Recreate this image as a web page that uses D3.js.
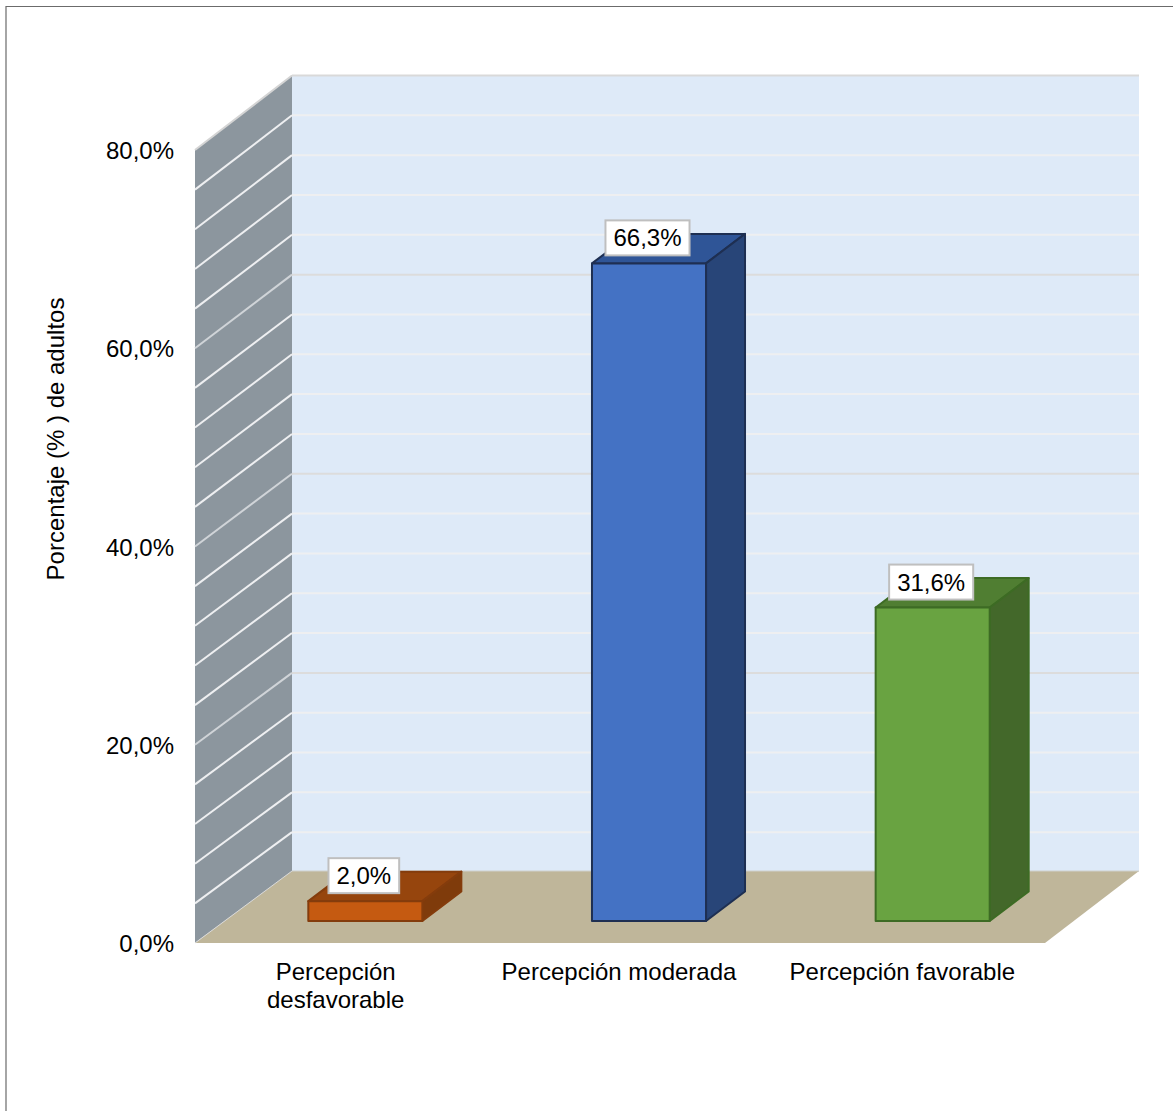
<!DOCTYPE html>
<html>
<head>
<meta charset="utf-8">
<script src="https://cdnjs.cloudflare.com/ajax/libs/d3/7.8.5/d3.min.js"></script>
<style>
html, body { margin: 0; padding: 0; background: #fff; overflow: hidden; }
svg { display: block; }
text { font-family: "Liberation Sans", Arial, sans-serif; fill: #000; }
</style>
</head>
<body>
<svg id="chart" width="1173" height="1111"></svg>
<script>
// Chart data
const categories = [["Percepción", "desfavorable"], ["Percepción moderada"], ["Percepción favorable"]];
const values = [2.0, 66.3, 31.6];
const faceColors = ["#c55a11", "#4472c4", "#69a341"];
const topColors = ["#96450d", "#2f5597", "#507e32"];
const sideColors = ["#7f3b0b", "#284578", "#43682a"];
const edgeColors = ["#843c0c", "#1e2f52", "#3d6b24"];
const majorTicks = [0, 20, 40, 60, 80];
const minorTicks = d3.range(0, 84, 4);
const axisTitle = "Porcentaje (% ) de adultos";

const svg = d3.select("#chart");
const fmt = d3.formatLocale({ decimal: ",", thousands: ".", grouping: [3], currency: ["", ""] });
const pct = v => fmt.format(".1f")(v) + "%";

// Projection of the 3D box: front plane, back plane and bar plane
const yFront = d3.scaleLinear().domain([0, 80]).range([943, 150]);
const yBack = d3.scaleLinear().domain([0, 80]).range([872, 75.5]);
const yBar = d3.scaleLinear().domain([0, 80]).range([921, 127.5]);
const xFront = d3.scaleBand().domain(d3.range(3)).range([195, 1045]);
const xBar = d3.scaleBand().domain(d3.range(3)).range([223.5, 1074.5]).paddingInner(0.598).paddingOuter(0.299);
const wallLeft = 292, wallRight = 1139, frontLeft = 195, frontRight = 1045;
const depthX = 39, depthY = -29.5;

// Outer frame, open towards the right and bottom edges
svg.append("path").attr("d", "M6,1111V6.5H1173").attr("fill", "none").attr("stroke", "#6b6b6b").attr("stroke-width", 1.2);

// Back wall
svg.append("rect").attr("x", wallLeft).attr("y", yBack(80))
  .attr("width", wallRight - wallLeft).attr("height", yBack(0) - yBack(80)).attr("fill", "#deeaf8");

// Side wall
const sideWall = d3.line()([[frontLeft, yFront(0)], [frontLeft, yFront(80)], [wallLeft, yBack(80)], [wallLeft, yBack(0)]]) + "Z";
svg.append("path").attr("d", sideWall).attr("fill", "#8c969e");

// Floor
const floor = d3.line()([[frontLeft, yFront(0)], [wallLeft, yBack(0) - 1], [wallRight, yBack(0) - 1], [frontRight, yFront(0)]]) + "Z";
svg.append("path").attr("d", floor).attr("fill", "#bfb69a");

// Gridlines every 4 units, heavier on the labelled values
const isMajor = v => majorTicks.includes(v);
const grid = svg.append("g").attr("fill", "none").attr("stroke-width", 2);
minorTicks.filter(v => v > 0).forEach(v => {
  const col = isMajor(v) ? "#dcdcdc" : "#eeeff1";
  const sideCol = v === 80 ? "#d4d4d4" : (isMajor(v) ? "#d0d4d8" : "#eeeff1");
  grid.append("line").attr("x1", wallLeft).attr("x2", wallRight).attr("y1", yBack(v)).attr("y2", yBack(v)).attr("stroke", v === 80 ? "#d9d9d9" : col);
  grid.append("line").attr("x1", frontLeft).attr("x2", wallLeft).attr("y1", yFront(v)).attr("y2", yBack(v)).attr("stroke", sideCol);
});
grid.append("line").attr("x1", wallLeft).attr("x2", wallRight).attr("y1", yBack(0) - 1).attr("y2", yBack(0) - 1).attr("stroke", "#cfd0cc").attr("stroke-width", 1);
grid.append("line").attr("x1", frontLeft).attr("x2", wallLeft).attr("y1", yFront(0)).attr("y2", yBack(0) - 1).attr("stroke", "#d9d9d9").attr("stroke-width", 1);

// Value axis
const axis = svg.append("g").attr("transform", `translate(${frontLeft},1)`)
  .call(d3.axisLeft(yFront).tickValues(majorTicks).tickSize(0).tickPadding(21).tickFormat(pct));
axis.select(".domain").remove();
axis.selectAll("text").attr("font-size", 24).style("font-family", '"Liberation Sans", Arial, sans-serif').attr("fill", "#000");

// Axis title
svg.append("text").attr("transform", "translate(64,439) rotate(-90)")
  .attr("text-anchor", "middle").attr("font-size", 24).text(axisTitle);

// Category labels
categories.forEach((lines, i) => {
  const t = svg.append("text").attr("text-anchor", "middle").attr("font-size", 24);
  lines.forEach((s, j) => t.append("tspan").attr("x", xFront(i) + xFront.bandwidth() / 2 - 1).attr("y", 980 + j * 28).text(s));
});

// Bars drawn as three faces
values.forEach((v, i) => {
  const x0 = xBar(i), x1 = x0 + xBar.bandwidth(), y0 = yBar(0), y1 = yBar(v);
  const g = svg.append("g").attr("stroke", edgeColors[i]).attr("stroke-width", 2).attr("stroke-linejoin", "round");
  g.append("path").attr("fill", topColors[i])
    .attr("d", d3.line()([[x0, y1], [x0 + depthX, y1 + depthY], [x1 + depthX, y1 + depthY], [x1, y1]]) + "Z");
  g.append("path").attr("fill", sideColors[i])
    .attr("d", d3.line()([[x1, y1], [x1 + depthX, y1 + depthY], [x1 + depthX, y0 + depthY], [x1, y0]]) + "Z");
  g.append("rect").attr("x", x0).attr("y", y1).attr("width", x1 - x0).attr("height", y0 - y1).attr("fill", faceColors[i]);
});

// Value labels in white boxes, sized from their text
values.forEach((v, i) => {
  const cx = xBar(i) + xBar.bandwidth() / 2 - 1.5;
  const cy = yBar(v) - 25.5;
  const g = svg.append("g");
  const r = g.append("rect").attr("fill", "#fff").attr("stroke", "#bfbfbf").attr("stroke-width", 2);
  const t = g.append("text").attr("x", cx).attr("y", cy).attr("text-anchor", "middle").attr("dominant-baseline", "central")
    .attr("font-size", 24).text(pct(v));
  const w = t.node().getComputedTextLength();
  r.attr("x", cx - w / 2 - 8).attr("y", cy - 17.5).attr("width", w + 16).attr("height", 35);
});
</script>
</body>
</html>
